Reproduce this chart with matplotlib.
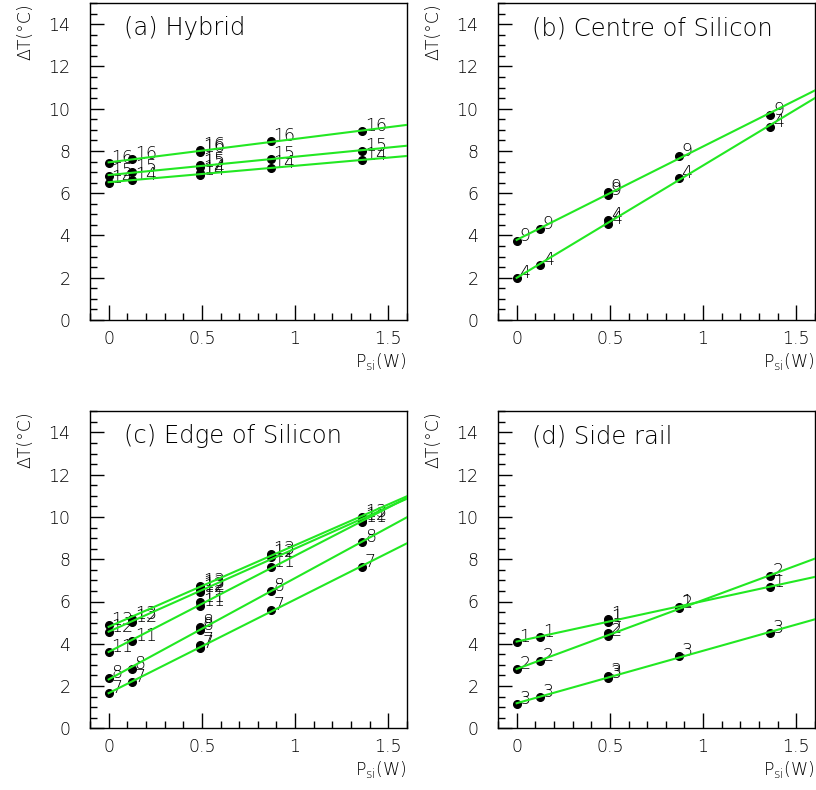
import numpy as np
import matplotlib
matplotlib.use('Agg')
from matplotlib import pyplot as plt
from matplotlib.ticker import MultipleLocator, FuncFormatter

plt.rcParams['font.family'] = ['DejaVu Sans']
plt.rcParams['font.weight'] = 200
plt.rcParams['mathtext.default'] = 'regular'

# heater power on the silicon (W); two readings were taken near 0.49 W
p_si = [0.0, 0.125, 0.49, 0.49, 0.868, 1.36]

# (a) hybrid sensors
hybrid_ids = ['16', '15', '14']
hybrid_dt = [
    [7.45, 7.60, 7.95, 8.05, 8.45, 8.95],
    [6.83, 6.98, 7.24, 7.34, 7.63, 8.02],
    [6.50, 6.64, 6.85, 6.95, 7.20, 7.57],
]

# (b) centre of silicon
centre_ids = ['9', '4']
centre_dt = [
    [3.74, 4.30, 5.91, 6.07, 7.76, 9.70],
    [1.97, 2.60, 4.54, 4.73, 6.70, 9.15],
]

# (c) edge of silicon
edge_ids = ['13', '12', '11', '8', '7']
edge_dt = [
    [4.87, 5.19, 6.62, 6.75, 8.23, 10.02],
    [4.56, 5.03, 6.45, 6.55, 8.10, 9.85],
    [3.59, 4.14, 5.77, 5.98, 7.63, 9.75],
    [2.36, 2.79, 4.65, 4.77, 6.48, 8.81],
    [1.65, 2.17, 3.78, 3.93, 5.59, 7.63],
]

# (d) side rail
rail_ids = ['1', '2', '3']
rail_dt = [
    [4.09, 4.30, 5.03, 5.15, 5.74, 6.69],
    [2.79, 3.18, 4.36, 4.51, 5.67, 7.21],
    [1.15, 1.49, 2.36, 2.47, 3.41, 4.51],
]

titles = ['(a) Hybrid', '(b) Centre of Silicon', '(c) Edge of Silicon', '(d) Side rail']
panels = [(hybrid_ids, hybrid_dt), (centre_ids, centre_dt),
          (edge_ids, edge_dt), (rail_ids, rail_dt)]

x_min, x_max = -0.1, 1.6
y_min, y_max = 0, 15
fit_color = '#22e822'

fig = plt.figure(figsize=(8.16, 7.9), dpi=100)
W, H = 816.0, 790.0
ax_w, ax_h = 317 / W, 317 / H
boxes = [(90 / W, (H - 320) / H), (498 / W, (H - 320) / H),
         (90 / W, (H - 728.3) / H), (498 / W, (H - 728.3) / H)]

x = np.array(p_si)
for (left, bottom), title, (ids, dts) in zip(boxes, titles, panels):
    ax = fig.add_axes([left, bottom, ax_w, ax_h])

    for sid, dt in zip(ids, dts):
        y = np.array(dt)
        ax.plot(x, y, 'o', color='black', markersize=5.5, zorder=3)
        for xi, yi in zip(x, y):
            ax.annotate(sid, (xi, yi), xytext=(2, 0), textcoords='offset points',
                        ha='left', va='baseline', fontsize=12.5, zorder=2)
        # straight-line fit of dT against power
        k, b = np.polyfit(x, y, 1)
        xs = np.array([x[0], x_max])
        ax.plot(xs, k * xs + b, '-', color=fit_color, lw=1.5, zorder=4)

    ax.set_xlim(x_min, x_max)
    ax.set_ylim(y_min, y_max)
    ax.xaxis.set_major_locator(MultipleLocator(0.5))
    ax.xaxis.set_minor_locator(MultipleLocator(0.1))
    ax.yaxis.set_major_locator(MultipleLocator(2))
    ax.yaxis.set_minor_locator(MultipleLocator(0.5))
    ax.xaxis.set_major_formatter(FuncFormatter(lambda v, p: '%g' % v))
    ax.tick_params(axis='x', which='major', direction='in', length=11, width=1, pad=7, labelsize=12.5)
    ax.tick_params(axis='x', which='minor', direction='in', length=5, width=1)
    ax.tick_params(axis='y', which='major', direction='in', length=10, width=1, pad=14, labelsize=12.5)
    ax.tick_params(axis='y', which='minor', direction='in', length=5, width=1)
    for s in ax.spines.values():
        s.set_linewidth(1.0)

    ax.text(0.107, 0.899, title, transform=ax.transAxes, fontsize=17.5,
            ha='left', va='baseline')
    ax.text(-0.205, 1.0, 'ΔT(°C)', transform=ax.transAxes, rotation=90,
            fontsize=12.5, ha='center', va='top')
    ax.text(1.0, -0.148, r'P$_{si}$(W)', transform=ax.transAxes,
            fontsize=12.5, ha='right', va='baseline')

fig.savefig('out.png', dpi=100)
